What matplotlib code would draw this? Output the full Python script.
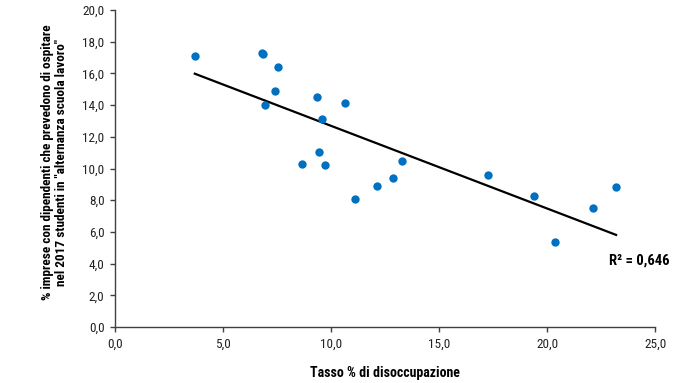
import numpy as np
import matplotlib
matplotlib.use("Agg")
import matplotlib.pyplot as plt
from matplotlib.ticker import FuncFormatter, MultipleLocator

plt.rcParams['font.family'] = ['Roboto Condensed', 'Liberation Sans', 'DejaVu Sans']

# Data: unemployment rate (x) vs % of firms hosting students (y)
unemployment = [3.70, 6.79, 6.87, 7.56, 7.39, 6.94, 9.37, 10.63, 9.57, 9.46, 8.66, 9.72,
                11.13, 12.13, 12.85, 13.30, 17.28, 19.40, 20.37, 22.11, 23.19]
share_firms = [17.1, 17.27, 17.2, 16.38, 14.9, 13.99, 14.53, 14.11, 13.1, 11.02, 10.28, 10.22,
               8.08, 8.9, 9.38, 10.47, 9.59, 8.28, 5.38, 7.53, 8.83]
r2_label = "R² = 0,646"
xlabel = "Tasso % di disoccupazione"
ylabel = "% imprese con dipendenti che prevedono di ospitare\nnel 2017 studenti in \"alternanza scuola lavoro\""

x = np.array(unemployment)
y = np.array(share_firms)

fig = plt.figure(figsize=(7, 3.83), dpi=100)
ax = fig.add_axes([0.164, 0.146, 0.772, 0.828])

ax.scatter(x, y, s=36, color='#0070C0', zorder=3, linewidths=0)

slope, intercept = np.polyfit(x, y, 1)
xs = np.array([x.min(), x.max()])
ax.plot(xs, slope * xs + intercept, color='black', lw=1.6, zorder=2)

ax.set_xlim(0, 25)
ax.set_ylim(0, 20)
ax.xaxis.set_major_locator(MultipleLocator(5))
ax.yaxis.set_major_locator(MultipleLocator(2))
fmt = FuncFormatter(lambda v, p: f"{v:.1f}".replace('.', ','))
ax.xaxis.set_major_formatter(fmt)
ax.yaxis.set_major_formatter(fmt)

for s in ['top', 'right']:
    ax.spines[s].set_visible(False)
for s in ['left', 'bottom']:
    ax.spines[s].set_color('#404040')
    ax.spines[s].set_linewidth(1.0)
ax.tick_params(direction='out', length=3.5, width=1.0, color='#404040',
               labelsize=9.5, labelcolor='#222222', pad=4)

ax.set_xlabel(xlabel, fontsize=10, fontweight='bold', labelpad=11)
ax.set_ylabel(ylabel, fontsize=9.5, fontweight='bold', linespacing=1.15)
ax.yaxis.set_label_coords(-0.086, 0.52)

ax.text(24.25, 4.2, r2_label, fontsize=10.5, fontweight='bold', ha='center', va='center')

fig.savefig('out.png', dpi=100)
